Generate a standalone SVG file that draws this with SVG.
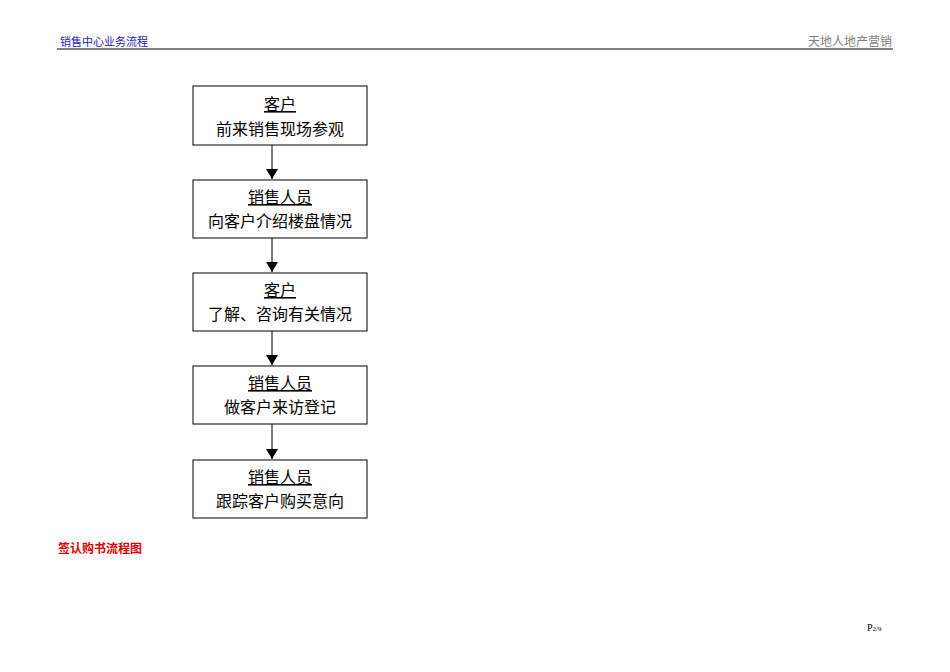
<svg xmlns="http://www.w3.org/2000/svg" width="950" height="672" viewBox="0 0 950 672">
<style>
.box{fill:#fff;stroke:#000;stroke-width:1}
.t{font-family:"Liberation Sans","Noto Sans CJK SC",sans-serif;font-size:16px;text-anchor:middle;fill:#000}
.u{text-decoration:underline}
.c{stroke:#000;stroke-width:1;fill:none}
</style>
<defs><marker id="a" markerWidth="10" markerHeight="12" refX="10" refY="6" orient="auto" markerUnits="userSpaceOnUse"><path d="M0,0 L10,6 L0,12 z" fill="#000"/></marker></defs>
<rect width="950" height="672" fill="#fff"/>
<g id="header">
<line x1="57" y1="49" x2="893" y2="49" stroke="#000" stroke-width="1"/>
<text x="60" y="46" font-family="Liberation Serif,'Noto Sans CJK SC',serif" font-size="11" fill="#2020c0">销售中心业务流程</text>
<text x="892" y="46" font-family="Liberation Sans,'Noto Sans CJK SC',sans-serif" font-size="12" fill="#808080" text-anchor="end">天地人地产营销</text>
</g>
<g id="n1"><rect class="box" x="193" y="86" width="174" height="59"/><text class="t u" x="280" y="110">客户</text><text class="t" x="280" y="135">前来销售现场参观</text></g>
<g id="n2"><rect class="box" x="193" y="180" width="174" height="58"/><text class="t u" x="280" y="203">销售人员</text><text class="t" x="280" y="227">向客户介绍楼盘情况</text></g>
<g id="n3"><rect class="box" x="193" y="273" width="174" height="58"/><text class="t u" x="280" y="296">客户</text><text class="t" x="280" y="320">了解、咨询有关情况</text></g>
<g id="n4"><rect class="box" x="193" y="366" width="174" height="58"/><text class="t u" x="280" y="389">销售人员</text><text class="t" x="280" y="413">做客户来访登记</text></g>
<g id="n5"><rect class="box" x="193" y="460" width="174" height="58"/><text class="t u" x="280" y="483">销售人员</text><text class="t" x="280" y="507">跟踪客户购买意向</text></g>
<g id="connectors">
<line class="c" x1="272" y1="145" x2="272" y2="179" marker-end="url(#a)"/>
<line class="c" x1="272" y1="238" x2="272" y2="272" marker-end="url(#a)"/>
<line class="c" x1="272" y1="331" x2="272" y2="365" marker-end="url(#a)"/>
<line class="c" x1="272" y1="424" x2="272" y2="459" marker-end="url(#a)"/>
</g>
<text x="58" y="553" font-family="Liberation Sans,'Noto Sans CJK SC',sans-serif" font-size="12" font-weight="bold" fill="#e00000">签认购书流程图</text>
<text x="867" y="631" font-family="Liberation Serif,serif" font-size="10" fill="#000">P<tspan font-size="7">2/9</tspan></text>
</svg>
